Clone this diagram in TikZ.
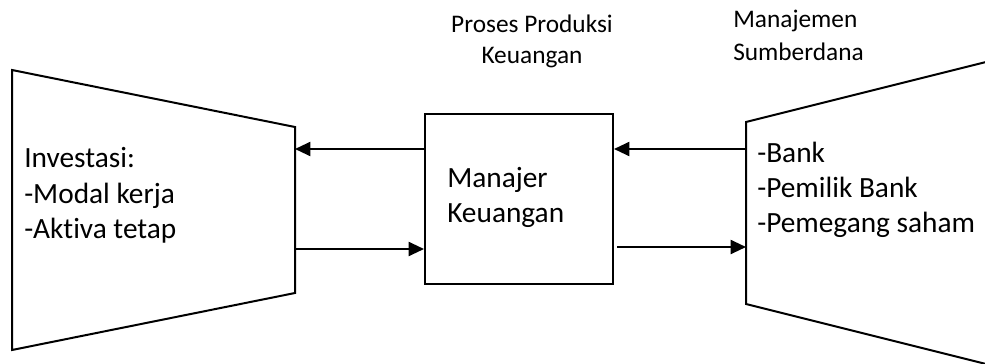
\documentclass[tikz,border=0pt]{standalone}
\usepackage{fontspec}
\setmainfont{Carlito}[Ligatures=NoCommon]
\usetikzlibrary{arrows.meta}
\begin{document}
\begin{tikzpicture}[x=0.75pt,y=-0.75pt,
  edge/.style={line width=1.5pt},
  flow/.style={edge,-{Triangle[length=11.5pt,width=10.5pt]}},
  body/.style={inner sep=0pt,anchor=base west,font=\fontsize{22}{26}\selectfont},
  heading/.style={inner sep=0pt,font=\fontsize{19}{22}\selectfont}]
  \useasboundingbox (0,0) rectangle (985,364);
  \clip (0,0) rectangle (985,364);

  % investment side (left trapezoid)
  \draw[edge,line join=miter] (12,70) -- (295,127) -- (295,293) -- (12,350) -- cycle;
  \coordinate (invIn)  at (295,149);
  \coordinate (invOut) at (295,249);

  % financial manager box
  \node[draw,line width=1.5pt,minimum width=188*0.75pt,minimum height=170*0.75pt,
        inner sep=0pt,anchor=north west] (mgr) at (424,113) {};

  % funding sources side (right trapezoid, open to the right)
  \draw[edge] (990,61) -- (746,122) -- (746,304) -- (990,365);
  \coordinate (srcOut) at (746,149);
  \coordinate (srcIn)  at (746,247);

  % connectors
  \draw[flow] (mgr.west |- invIn) -- (invIn);
  \draw[flow] (invOut) -- (mgr.west |- invOut);
  \draw[flow] (srcOut) -- (mgr.east |- srcOut);
  \draw[flow] ([xshift=2.25pt]mgr.east |- srcIn) -- (srcIn);

  % texts
  \node[body] (t1) at (24,167) {Investasi:};
  \node[body] (t2) at (24,203) {-Modal kerja};
  \node[body] (t3) at (24,238) {-Aktiva tetap};

  \node[body] (m1) at (447,187) {Manajer};
  \node[body] (m2) at (447,222) {Keuangan};

  \node[body] (s1) at (757,162) {-Bank};
  \node[body] (s2) at (757,197) {-Pemilik Bank};
  \node[body] (s3) at (757,232) {-Pemegang saham};

  \node[heading,anchor=base] (p1) at (532,32) {Proses Produksi};
  \node[heading,anchor=base] (p2) at (532,63) {Keuangan};

  \node[heading,anchor=base west] (h1) at (733,27) {Manajemen};
  \node[heading,anchor=base west] (h2) at (733,60) {Sumberdana};
\end{tikzpicture}
\end{document}
